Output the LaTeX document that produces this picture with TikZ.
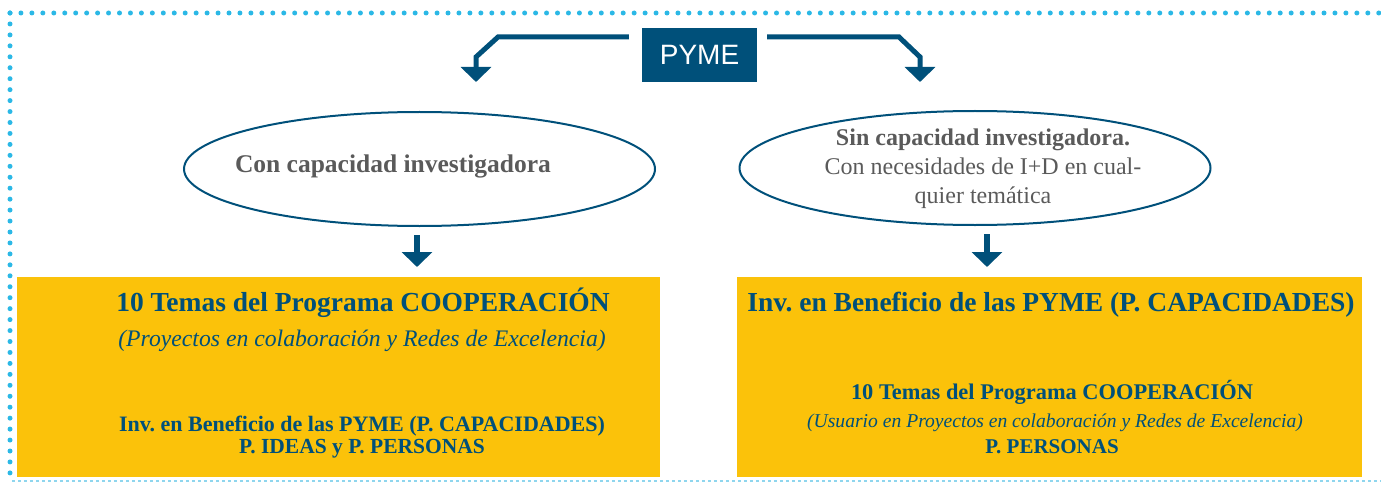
\documentclass[tikz,border=0pt]{standalone}
\usepackage{fontspec}
\setmainfont{Liberation Serif}
\newfontfamily\pymefont{Liberation Sans}
\usetikzlibrary{arrows.meta,shapes.geometric,calc}
\definecolor{dblue}{HTML}{00507A}
\definecolor{gold}{HTML}{FBC20A}
\definecolor{dotcyan}{HTML}{2BB8E6}
\definecolor{lcyan}{HTML}{8FD6EE}
\definecolor{graytxt}{HTML}{5A5A5A}
\frenchspacing
\tikzset{
  dotline/.style={dotcyan, line width=5pt, line cap=round, dash pattern=on 0pt off 10.95pt},
  dashline/.style={lcyan, line width=1.6pt, dash pattern=on 3pt off 3pt},
  pymebox/.style={fill=dblue, text=white, minimum width=115pt, minimum height=54pt, inner sep=0pt, font=\pymefont\fontsize{28}{30}\selectfont},
  bent/.style={dblue, line width=5pt, -{Triangle[width=30pt,length=15pt]}},
  down/.style={dblue, line width=5.5pt, -{Triangle[width=30pt,length=15pt]}},
  oval/.style={ellipse, draw=dblue, line width=2pt, minimum width=471pt, minimum height=114pt, inner sep=0pt},
  ovaltxt/.style={text=graytxt, anchor=base, inner sep=0pt},
  goldbox/.style={fill=gold, inner sep=0pt, anchor=north west},
  boxtxt/.style={text=dblue, anchor=base, inner sep=0pt},
}
\begin{document}
\begin{tikzpicture}[x=1pt,y=-1pt]
\useasboundingbox (0,0) rectangle (1381,484);
% frame
\draw[dotline] (10,13) -- (1381,13);
\draw[dotline] (10,13) -- (10,476);
\draw[dashline] (12,481) -- (1381,481);
% PYME
\node[pymebox] (pyme) at (699.5,55) {PYME};
\coordinate (tl) at (476,82);
\coordinate (tr) at (920,82);
\draw[bent] ($(pyme.north west)+(-13,9)$) -- (498,37) -- (476,57) -- (tl);
\draw[bent] ($(pyme.north east)+(10,9)$) -- (899,37) -- (920,57) -- (tr);
% ellipses
\node[oval] (e1) at (419.5,169) {};
\node[oval] (e2) at (975,168) {};
\node[ovaltxt, font=\fontsize{25.5}{28}\selectfont\bfseries] (t1) at (393,172) {Con capacidad investigadora};
\node[ovaltxt, font=\fontsize{24}{28}\selectfont\bfseries] (t2a) at (983,146) {Sin capacidad investigadora.};
\node[ovaltxt, font=\fontsize{24}{28}\selectfont] (t2b) at (983,175) {Con necesidades de I+D en cual-};
\node[ovaltxt, font=\fontsize{24}{28}\selectfont] (t2c) at (983,203) {quier temática};
% boxes
\node[goldbox, minimum width=643pt, minimum height=200pt] (b1) at (17,277) {};
\node[goldbox, minimum width=625pt, minimum height=200pt] (b2) at (737,277) {};
\draw[down] ([xshift=-2.5pt,yshift=-8pt]e1.south) -- ([xshift=-2.5pt]e1.south |- 0,267);
\draw[down] ([xshift=12pt,yshift=-8pt]e2.south) -- ([xshift=12pt]e2.south |- 0,267);
% left box text
\node[boxtxt, font=\fontsize{27.5}{30}\selectfont\bfseries] (l1) at (363,311) {10 Temas del Programa COOPERACIÓN};
\node[boxtxt, font=\fontsize{23.7}{28}\selectfont\itshape] (l2) at (362,346) {(Proyectos en colaboración y Redes de Excelencia)};
\node[boxtxt, font=\fontsize{22}{26}\selectfont\bfseries] (l3) at (362,431) {Inv. en Beneficio de las PYME (P. CAPACIDADES)};
\node[boxtxt, font=\fontsize{21.5}{26}\selectfont\bfseries] (l4) at (362,453) {P. IDEAS y P. PERSONAS};
% right box text
\node[boxtxt, font=\fontsize{27.5}{30}\selectfont\bfseries] (r1) at (1051,311) {Inv. en Beneficio de las PYME (P. CAPACIDADES)};
\node[boxtxt, font=\fontsize{22.4}{26}\selectfont\bfseries] (r2) at (1052,399) {10 Temas del Programa COOPERACIÓN};
\node[boxtxt, font=\fontsize{19.6}{24}\selectfont\itshape] (r3) at (1055,427) {(Usuario en Proyectos en colaboración y Redes de Excelencia)};
\node[boxtxt, font=\fontsize{21}{26}\selectfont\bfseries] (r4) at (1052,453) {P. PERSONAS};
\end{tikzpicture}
\end{document}
